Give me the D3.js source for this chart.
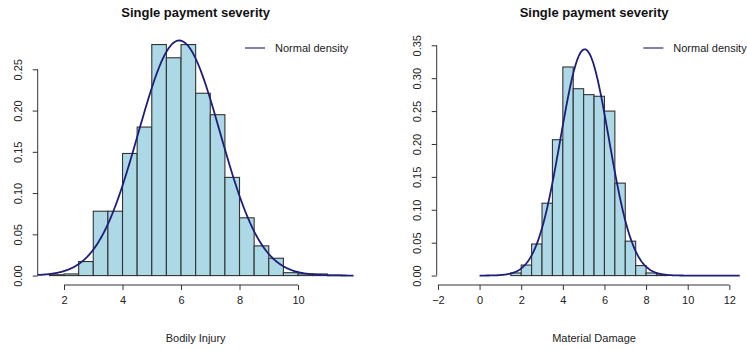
<!DOCTYPE html>
<html>
<head>
<meta charset="utf-8">
<script src="https://cdn.jsdelivr.net/npm/d3@7"></script>
<style>
  html, body { margin: 0; padding: 0; background: #fff; }
  svg { display: block; font-family: "Liberation Sans", Arial, Helvetica, sans-serif; }
</style>
</head>
<body>
<svg id="chart" width="747" height="350"></svg>
<script>
// ---- Bodily Injury: histogram of log payments (density scale, bin width 0.5)
const biBreakStart = 1.5;
const biBinWidth = 0.5;
const biDensity = [0.001, 0.002, 0.017, 0.078, 0.078, 0.148, 0.180, 0.280, 0.264, 0.280,
                   0.221, 0.195, 0.119, 0.070, 0.036, 0.021, 0.0035, 0.002, 0.002, 0.0005];
const biNormal = { mean: 5.94, sd: 1.40 };
const biCurveRange = [1.1, 11.9];
const biXTicks = [2, 4, 6, 8, 10];
const biYTicks = [0.00, 0.05, 0.10, 0.15, 0.20, 0.25];
const biYMax = 0.2855;

// ---- Material Damage: bins from -1.5 to 12.5
const mdBreakStart = -1.5;
const mdBinWidth = 0.5;
const mdDensity = [0, 0, 0, 0, 0, 0, 0.004, 0.016, 0.048, 0.110,
                   0.2065, 0.317, 0.284, 0.275, 0.2725, 0.250, 0.1405, 0.0523, 0.0152, 0.004,
                   0.001, 0, 0, 0, 0, 0, 0, 0];
const mdNormal = { mean: 5.05, sd: 1.16 };
const mdCurveRange = [0, 12.5];
const mdXTicks = [-2, 0, 2, 4, 6, 8, 10, 12];
const mdYTicks = [0.00, 0.05, 0.10, 0.15, 0.20, 0.25, 0.30, 0.35];
const mdYMax = 0.358;

const titleText = "Single payment severity";
const legendText = "Normal density";

const svg = d3.select("#chart");
const FILL = "#add8e6";
const BAR_STROKE = "#333";
const CURVE = "#1e1e78";
const TEXT = "#222";

function dnorm(x, m, s) {
  return Math.exp(-0.5 * ((x - m) / s) ** 2) / (s * Math.sqrt(2 * Math.PI));
}

function panel(cfg) {
  const nBins = cfg.density.length;
  const lo = cfg.breakStart, hi = cfg.breakStart + nBins * cfg.binWidth;
  const padX = 0.04 * (hi - lo);
  const x = d3.scaleLinear().domain([lo - padX, hi + padX]).range([cfg.left, cfg.right]);
  const padY = 0.04 * cfg.yMax;
  const y = d3.scaleLinear().domain([-padY, cfg.yMax + padY]).range([cfg.bottom, cfg.top]);

  const g = svg.append("g");

  // histogram bars
  const bins = cfg.density.map((d, i) => ({
    x0: cfg.breakStart + i * cfg.binWidth,
    x1: cfg.breakStart + (i + 1) * cfg.binWidth,
    d
  }));
  g.append("g").selectAll("rect").data(bins).join("rect")
    .attr("x", b => x(b.x0))
    .attr("width", b => x(b.x1) - x(b.x0))
    .attr("y", b => y(b.d))
    .attr("height", b => y(0) - y(b.d))
    .attr("fill", FILL)
    .attr("stroke", BAR_STROKE)
    .attr("stroke-width", 1.1);

  // normal density curve
  const pts = d3.range(0, 401).map(i => {
    const xv = cfg.curveRange[0] + (cfg.curveRange[1] - cfg.curveRange[0]) * i / 400;
    return [xv, dnorm(xv, cfg.normal.mean, cfg.normal.sd)];
  });
  g.append("path")
    .attr("d", d3.line().x(p => x(p[0])).y(p => y(p[1]))(pts))
    .attr("fill", "none")
    .attr("stroke", CURVE)
    .attr("stroke-width", 1.8);

  // x axis
  const xAxis = d3.axisBottom(x).tickValues(cfg.xTicks).tickSize(5).tickPadding(6)
    .tickFormat(d => d < 0 ? "\u2212" + Math.abs(d) : d);
  const gx = g.append("g").attr("transform", `translate(0,${cfg.bottom})`).call(xAxis);
  gx.select(".domain").attr("d", `M${x(cfg.xTicks[0])},0H${x(cfg.xTicks[cfg.xTicks.length - 1])}`);

  // y axis
  const yAxis = d3.axisLeft(y).tickValues(cfg.yTicks).tickSize(5).tickFormat(d3.format(".2f"));
  const gy = g.append("g").attr("transform", `translate(${cfg.left},0)`).call(yAxis);
  gy.select(".domain").attr("d", `M0,${y(cfg.yTicks[0])}V${y(cfg.yTicks[cfg.yTicks.length - 1])}`);
  gy.selectAll(".tick text")
    .attr("x", null).attr("dy", null)
    .attr("text-anchor", "middle")
    .attr("transform", "translate(-15.5,0) rotate(-90)");

  [gx, gy].forEach(a => {
    a.attr("font-family", null).attr("font-size", 11);
    a.selectAll(".domain, .tick line").attr("stroke", "#333");
    a.selectAll(".tick text").attr("fill", TEXT);
  });

  // title and axis label
  const cx = (cfg.left + cfg.right) / 2;
  g.append("text").attr("x", cx).attr("y", 17).attr("text-anchor", "middle")
    .attr("font-size", 13).attr("font-weight", "bold").attr("fill", "#111").text(titleText);
  g.append("text").attr("x", cx).attr("y", 342).attr("text-anchor", "middle")
    .attr("font-size", 11).attr("fill", TEXT).text(cfg.xlab);

  // legend (top right)
  const lg = g.append("g").attr("transform", `translate(${cfg.legendX},48)`);
  lg.append("line").attr("x1", 0).attr("x2", 20).attr("y1", 0).attr("y2", 0)
    .attr("stroke", CURVE).attr("stroke-width", 1.5).attr("opacity", 0.75);
  lg.append("text").attr("x", 30).attr("y", 4).attr("font-size", 11).attr("fill", TEXT).text(legendText);
}

panel({
  density: biDensity, breakStart: biBreakStart, binWidth: biBinWidth,
  normal: biNormal, curveRange: biCurveRange, xTicks: biXTicks, yTicks: biYTicks, yMax: biYMax,
  left: 37.7, right: 353.6, top: 30.6, bottom: 285,
  xlab: "Bodily Injury", legendX: 245
});
panel({
  density: mdDensity, breakStart: mdBreakStart, binWidth: mdBinWidth,
  normal: mdNormal, curveRange: mdCurveRange, xTicks: mdXTicks, yTicks: mdYTicks, yMax: mdYMax,
  left: 436.7, right: 751.4, top: 30.6, bottom: 285,
  xlab: "Material Damage", legendX: 643.3
});
</script>
</body>
</html>
